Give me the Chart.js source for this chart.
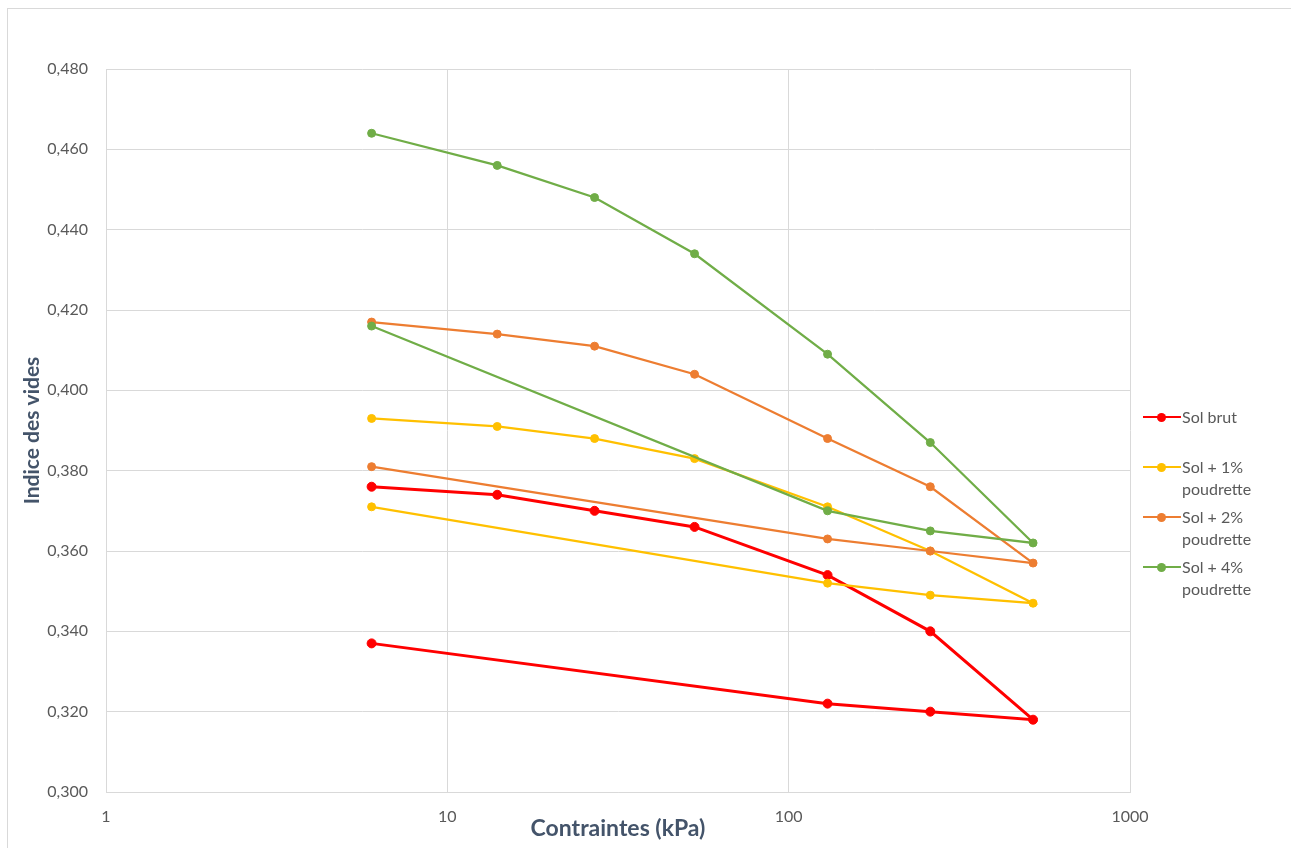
<!DOCTYPE html>
<html lang="fr">
<head>
<meta charset="utf-8">
<title>Indice des vides – contraintes</title>
<script src="https://cdn.jsdelivr.net/npm/chart.js@4/dist/chart.umd.min.js"></script>
<style>
  html, body { margin: 0; padding: 0; background: #ffffff; }
  #wrap { position: relative; width: 1291px; height: 848px; overflow: hidden; }
  #frame { position: absolute; left: 7px; top: 8px; width: 1290px; height: 850px;
           border: 1px solid #D9D9D9; box-sizing: border-box; pointer-events: none; }
  canvas { position: absolute; left: 0; top: 0; }
  #legend { position: absolute; left: 1143px; top: 0; font-family: Lato, "Open Sans", sans-serif;
            font-size: 16px; color: #595959; }
  .item { position: absolute; left: 0; display: flex; align-items: flex-start; }
  .sym { position: relative; width: 38px; height: 22px; flex: none; }
  .sym .ln { position: absolute; left: 0; right: 0; top: 10px; height: 2px; }
  .sym .dot { position: absolute; left: 14px; top: 6.5px; width: 9px; height: 9px; border-radius: 50%; }
  .txt { width: 84px; line-height: 22px; padding-left: 1px; }
</style>
</head>
<body>
<div id="wrap">
  <canvas id="c" width="1291" height="848"></canvas>
  <div id="legend"></div>
  <div id="frame"></div>
</div>
<script>
// Load path: loading up to 520 kPa then unloading back to 6 kPa
const pressures = [6, 14, 27, 53, 130, 260, 520, 260, 130, 6];

const seriesNames = ['Sol brut', 'Sol + 1% poudrette', 'Sol + 2% poudrette', 'Sol + 4% poudrette'];
const solBrut  = [0.376, 0.374, 0.370, 0.366, 0.354, 0.340, 0.318, 0.320, 0.322, 0.337];
const sol1     = [0.393, 0.391, 0.388, 0.383, 0.371, 0.360, 0.347, 0.349, 0.352, 0.371];
const sol2     = [0.417, 0.414, 0.411, 0.404, 0.388, 0.376, 0.357, 0.360, 0.363, 0.381];
const sol4     = [0.464, 0.456, 0.448, 0.434, 0.409, 0.387, 0.362, 0.365, 0.370, 0.416];

const xTickValues = [1, 10, 100, 1000];
const yMin = 0.300, yMax = 0.480, yStep = 0.020;

const colors = ['#FF0000', '#FFC000', '#ED7D31', '#70AD47'];
const widths = [3, 2.25, 2.25, 2.25];
const radii  = [4.5, 4, 4, 4];
const values = [solBrut, sol1, sol2, sol4];

const datasets = values.map((vals, i) => ({
  label: seriesNames[i],
  data: vals.map((v, k) => ({ x: pressures[k], y: v })),
  borderColor: colors[i],
  backgroundColor: colors[i],
  pointBackgroundColor: colors[i],
  pointBorderColor: colors[i],
  pointRadius: radii[i],
  pointBorderWidth: 1,
  borderWidth: widths[i],
  tension: 0,
  fill: false,
  order: values.length - 1 - i
}));

const grid = '#D9D9D9';
const tickFont = { family: 'Lato', size: 16 };

new Chart(document.getElementById('c'), {
  type: 'line',
  data: { datasets },
  options: {
    responsive: false,
    animation: false,
    layout: { padding: { left: 0, right: 161, top: 69, bottom: 0 } },
    plugins: { legend: { display: false }, tooltip: { enabled: false } },
    scales: {
      x: {
        type: 'logarithmic',
        min: 1, max: 1000,
        afterBuildTicks: s => { s.ticks = xTickValues.map(v => ({ value: v })); },
        afterFit: s => { s.height = 56; },
        ticks: { font: tickFont, color: '#595959', padding: 15, maxRotation: 0,
                 callback: v => String(v) },
        grid: { color: grid, lineWidth: 1, drawTicks: false },
        border: { color: grid, width: 1 },
        title: { display: true, text: 'Contraintes (kPa)',
                 font: { family: 'Lato', size: 23, weight: 'bold' }, color: '#44546A',
                 padding: { top: 0, bottom: 6 } }
      },
      y: {
        min: yMin, max: yMax,
        afterFit: s => { s.width = 106; },
        ticks: { stepSize: yStep, font: tickFont, color: '#595959', padding: 18,
                 callback: v => Number(v).toFixed(3).replace('.', ',') },
        grid: { color: grid, lineWidth: 1, drawTicks: false },
        border: { color: grid, width: 1 },
        title: { display: true, text: 'Indice des vides',
                 font: { family: 'Lato', size: 21, weight: 'bold' }, color: '#44546A',
                 padding: { top: 20, bottom: 0 } }
      }
    }
  }
});

// Legend on the right, one entry per series
const legendTops = [406, 456, 506, 556];
const legend = document.getElementById('legend');
seriesNames.forEach((name, i) => {
  const item = document.createElement('div');
  item.className = 'item';
  item.style.top = legendTops[i] + 'px';
  item.innerHTML = '<div class="sym"><div class="ln" style="background:' + colors[i] +
    '"></div><div class="dot" style="background:' + colors[i] + '"></div></div>' +
    '<div class="txt"></div>';
  item.querySelector('.txt').textContent = name;
  legend.appendChild(item);
});
</script>
</body>
</html>
